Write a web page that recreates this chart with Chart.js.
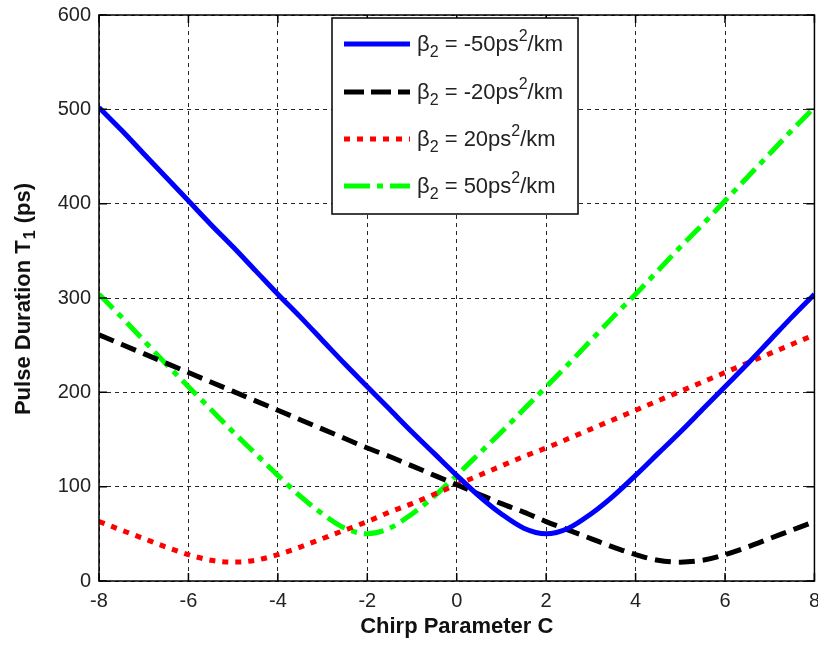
<!DOCTYPE html>
<html>
<head>
<meta charset="utf-8">
<script src="https://cdn.jsdelivr.net/npm/chart.js@4"></script>
<style>
html,body{margin:0;padding:0;background:#fff;overflow:hidden;}
#wrap{width:818px;height:645px;overflow:hidden;position:relative;}
#c{position:absolute;left:0;top:-5px;}
</style>
</head>
<body>
<div id="wrap"><canvas id="c" width="828" height="650"></canvas></div>
<script>
// ---- data ----
const chirpC = [-8,-7.5,-7,-6.5,-6,-5.5,-5,-4.5,-4,-3.5,-3,-2.5,-2,-1.5,-1,-0.5,0,0.5,1,1.5,2,2.5,3,3.5,4,4.5,5,5.5,6,6.5,7,7.5,8];
const betaValues = [-50, -20, 20, 50];
const pulseBetaM50 = [502,478,453,428,403,378,354,329,304,280,255,230,206,182,158,135,112,90,71,56,50,56,71,90,112,135,158,182,206,230,255,280,304];
const pulseBetaM20 = [261,251,241,231,221,211,201,191,181,171,161,151,141,132,122,112,102,92,82,73,63,54,45,36,28,22,20,22,28,36,45,54,63];
const pulseBetaP20 = [63,54,45,36,28,22,20,22,28,36,45,54,63,73,82,92,102,112,122,132,141,151,161,171,181,191,201,211,221,231,241,251,261];
const pulseBetaP50 = [304,280,255,230,206,182,158,135,112,90,71,56,50,56,71,90,112,135,158,182,206,230,255,280,304,329,354,378,403,428,453,478,502];
const xTicks = [-8,-6,-4,-2,0,2,4,6,8];
const yTicks = [0,100,200,300,400,500,600];
const xTitle = 'Chirp Parameter C';
const yTitleParts = ['Pulse Duration T', '1', ' (ps)'];

const seriesValues = [pulseBetaM50, pulseBetaM20, pulseBetaP20, pulseBetaP50];
const seriesColors = ['#0000ff', '#000000', '#ff0000', '#00ff00'];
const seriesDash = [[], [16, 8], [6, 7], [20, 7, 6, 7]];

const FONT = '"Liberation Sans", Arial, sans-serif';

const datasets = seriesValues.map((vals, i) => ({
  label: 'β2 = ' + betaValues[i] + 'ps2/km',
  data: chirpC.map((c, k) => ({x: c, y: vals[k]})),
  borderColor: seriesColors[i],
  backgroundColor: seriesColors[i],
  borderWidth: 5,
  borderDash: seriesDash[i],
  borderCapStyle: 'butt',
  pointRadius: 0,
  cubicInterpolationMode: 'monotone',
  fill: false
}));

const framePlugin = {
  id: 'frame',
  afterDraw(chart) {
    const ctx = chart.ctx;
    const a = chart.chartArea;
    const xs = chart.scales.x, ys = chart.scales.y;
    const OY = 5; // canvas is shifted up by 5px
    ctx.save();
    // inward tick marks
    ctx.strokeStyle = '#000';
    ctx.lineWidth = 1.5;
    ctx.setLineDash([]);
    ctx.beginPath();
    xTicks.forEach(t => {
      const px = xs.getPixelForValue(t);
      ctx.moveTo(px, a.bottom); ctx.lineTo(px, a.bottom - 8);
      ctx.moveTo(px, a.top); ctx.lineTo(px, a.top + 8);
    });
    yTicks.forEach(t => {
      const py = ys.getPixelForValue(t);
      ctx.moveTo(a.left, py); ctx.lineTo(a.left + 8, py);
      ctx.moveTo(a.right, py); ctx.lineTo(a.right - 8, py);
    });
    ctx.stroke();
    // box
    ctx.strokeRect(a.left, a.top, a.right - a.left, a.bottom - a.top);

    // legend
    const lx = 332, ly = 18 + OY, lw = 246, lh = 196;
    ctx.fillStyle = '#fff';
    ctx.fillRect(lx, ly, lw, lh);
    ctx.strokeStyle = '#000';
    ctx.lineWidth = 1.5;
    ctx.strokeRect(lx, ly, lw, lh);
    const rows = [44, 92, 139, 186];
    chart.data.datasets.forEach((ds, i) => {
      const y = rows[i] + OY;
      ctx.save();
      ctx.strokeStyle = ds.borderColor;
      ctx.lineWidth = 5;
      ctx.lineCap = 'butt';
      ctx.setLineDash(i === 1 ? [20, 7] : i === 2 ? [6, 7] : i === 3 ? [26, 7, 6, 7] : []);
      ctx.beginPath();
      ctx.moveTo(344, y); ctx.lineTo(410, y);
      ctx.stroke();
      ctx.restore();
      // text with sub/superscripts
      let x = 417;
      const base = y + 7;
      ctx.fillStyle = '#222';
      ctx.textBaseline = 'alphabetic';
      ctx.textAlign = 'left';
      const big = '22px ' + FONT, small = '16px ' + FONT;
      const seg = (txt, font, dy) => { ctx.font = font; ctx.fillText(txt, x, base + dy); x += ctx.measureText(txt).width; };
      seg('β', big, 0);
      seg('2', small, 6);
      seg(' = ' + betaValues[i] + 'ps', big, 0);
      seg('2', small, -10);
      seg('/km', big, 0);
    });

    // axis titles
    ctx.fillStyle = '#111';
    ctx.textBaseline = 'middle';
    ctx.textAlign = 'center';
    ctx.font = 'bold 22px ' + FONT;
    ctx.fillText(xTitle, (a.left + a.right) / 2, 627 + OY);

    ctx.translate(22, 299 + OY);
    ctx.rotate(-Math.PI / 2);
    const fBig = 'bold 22px ' + FONT, fSmall = 'bold 16px ' + FONT;
    ctx.font = fBig; const w0 = ctx.measureText(yTitleParts[0]).width;
    ctx.font = fSmall; const w1 = ctx.measureText(yTitleParts[1]).width;
    ctx.font = fBig; const w2 = ctx.measureText(yTitleParts[2]).width;
    let tx = -(w0 + w1 + w2 + 2) / 2;
    ctx.textAlign = 'left';
    ctx.textBaseline = 'alphabetic';
    ctx.font = fBig; ctx.fillText(yTitleParts[0], tx, 8); tx += w0;
    ctx.font = fSmall; ctx.fillText(yTitleParts[1], tx + 1, 13); tx += w1 + 2;
    ctx.font = fBig; ctx.fillText(yTitleParts[2], tx, 8);
    ctx.restore();
  }
};

new Chart(document.getElementById('c'), {
  type: 'line',
  data: { datasets },
  options: {
    responsive: false,
    animation: false,
    layout: { padding: { top: 15, right: 5, left: 0, bottom: 0 } },
    plugins: { legend: { display: false }, tooltip: { enabled: false } },
    scales: {
      x: {
        type: 'linear', min: -8, max: 8,
        afterFit(s) { s.height = 64; },
        afterBuildTicks(s) { s.ticks = xTicks.map(v => ({value: v})); },
        ticks: { font: { size: 20, family: FONT }, color: '#222', padding: 8, maxRotation: 0 },
        grid: { color: 'rgba(0,0,0,0.85)', lineWidth: 1, drawTicks: false },
        border: { display: false, dash: [4, 4] }
      },
      y: {
        type: 'linear', min: 0, max: 600,
        afterFit(s) { s.width = 99; },
        afterBuildTicks(s) { s.ticks = yTicks.map(v => ({value: v})); },
        ticks: { font: { size: 20, family: FONT }, color: '#222', padding: 8 },
        grid: { color: 'rgba(0,0,0,0.85)', lineWidth: 1, drawTicks: false },
        border: { display: false, dash: [4, 4] }
      }
    }
  },
  plugins: [framePlugin]
});
</script>
</body>
</html>
